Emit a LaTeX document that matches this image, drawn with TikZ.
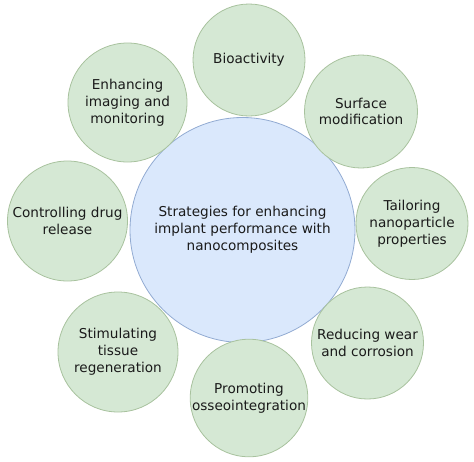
\documentclass[tikz,border=0pt]{standalone}
\usepackage{fontspec}
\setmainfont{DejaVu Sans}
\definecolor{gfill}{HTML}{D5E8D4}
\definecolor{gline}{HTML}{A8C29E}
\definecolor{bfill}{HTML}{DAE8FC}
\definecolor{bline}{HTML}{92ABD2}
\definecolor{txt}{HTML}{1A1A1A}
\begin{document}
\begin{tikzpicture}[x=1pt,y=-1pt,
  lbl/.style={align=center,text=txt,font=\fontsize{13.6}{16.8}\selectfont,inner sep=0pt},
  outer/.style={circle,draw=gline,fill=gfill,line width=0.8pt,minimum size=#1,lbl},
  outer/.default=112pt,
  hub/.style={circle,draw=bline,fill=bfill,line width=0.8pt,minimum size=225pt,lbl}]
\useasboundingbox (0,0) rectangle (474,461);
\node[hub] (c) at (242.5,230) {Strategies for enhancing\\implant performance with\\nanocomposites};
\node[outer] (bio) at (249,60) {Bioactivity};
\node[outer=113pt] (surf) at (361,111.5) {Surface\\modification};
\node[outer] (tail) at (412,223.5) {Tailoring\\nanoparticle\\properties};
\node[outer] (wear) at (367.5,343) {Reducing wear\\and corrosion};
\node[outer] (oss) at (249,398) {Promoting\\osseointegration};
\node[outer=120pt] (tis) at (118,352) {Stimulating\\tissue\\regeneration};
\node[outer=120pt] (drug) at (67.5,221) {Controlling drug\\release};
\node[outer=119pt] (img) at (127.5,102.5) {Enhancing\\imaging and\\monitoring};
\end{tikzpicture}
\end{document}
